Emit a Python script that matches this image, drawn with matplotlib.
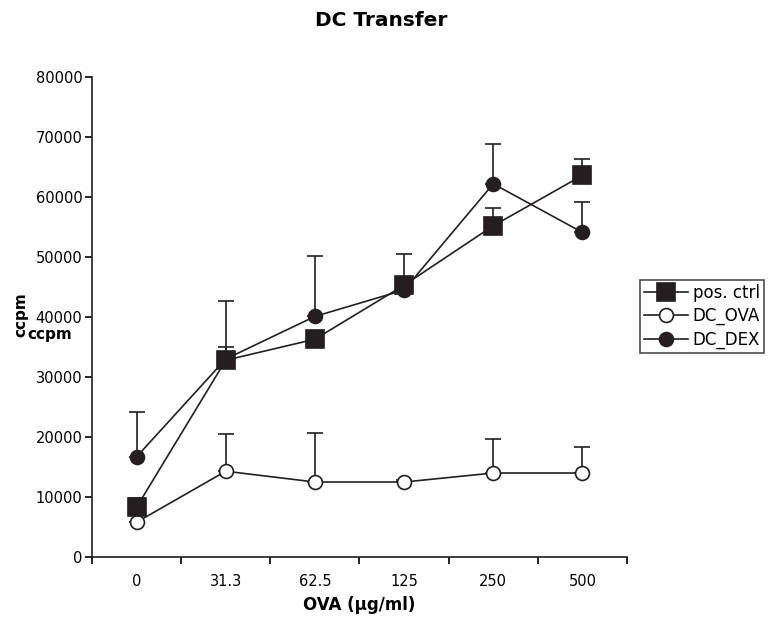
import numpy as np
import matplotlib.pyplot as plt

# -------------------------
# Data
# -------------------------

doses = ["0", "31.3", "62.5", "125", "250", "500"]

pos_ctrl = [8300, 32800, 36300, 45300, 55200, 63600]
pos_ctrl_err = [1600, 2200, 0, 5200, 2900, 2800]

dc_ova = [5800, 14300, 12500, 12500, 14000, 14000]
dc_ova_err = [0, 6200, 8100, 300, 5600, 4300]

dc_dex = [16700, 33000, 40100, 44500, 62200, 54100]
dc_dex_err = [7400, 9700, 10000, 0, 6600, 5000]

# -------------------------
# Plot
# -------------------------

plt.rcParams["font.family"] = "DejaVu Sans"

fig = plt.figure(figsize=(7.75, 6.17), dpi=100)
ax = fig.add_axes([0.1187, 0.0972, 0.6903, 0.7780])

x = np.arange(len(doses))


def draw(vals, err, marker, ms, face, label, z):
    ax.errorbar(x, vals, yerr=[np.zeros(len(vals)), err], fmt="none",
                ecolor="#231f20", elinewidth=1.2, capsize=5.5, capthick=1.2,
                zorder=z)
    ax.plot(x, vals, color="#231f20", lw=1.2, marker=marker, ms=ms,
            mfc=face, mec="#231f20", mew=1.2, label=label, zorder=z + 1)


draw(dc_dex, dc_dex_err, "o", 10, "#231f20", "DC_DEX", 2)
draw(dc_ova, dc_ova_err, "o", 10, "white", "DC_OVA", 4)
draw(pos_ctrl, pos_ctrl_err, "s", 13.5, "#231f20", "pos. ctrl", 6)

ax.set_xlim(-0.5, len(doses) - 0.5)
ax.set_ylim(0, 80000)
ax.set_yticks(np.arange(0, 80001, 10000))
ax.set_xticks(x)
ax.set_xticklabels(doses)
ax.set_xticks(np.arange(-0.5, len(doses), 1.0), minor=True)
ax.tick_params(axis="x", which="major", length=0, pad=12, labelsize=10.5)
ax.tick_params(axis="x", which="minor", length=5, width=1.2, direction="out")
ax.tick_params(axis="y", length=5, width=1.2, direction="out", labelsize=10.5,
               pad=2)

for side in ["top", "right"]:
    ax.spines[side].set_visible(False)
for side in ["left", "bottom"]:
    ax.spines[side].set_linewidth(1.2)
    ax.spines[side].set_color("#231f20")

ax.set_xlabel("OVA (µg/ml)", fontsize=12, fontweight="bold", labelpad=5)
fig.text(0.492, 0.966, "DC Transfer", ha="center", va="center",
         fontsize=14.5, fontweight="bold")

# overlapping y labels, as in the source
fig.text(0.027, 0.49, "ccpm", rotation=90, ha="center", va="center",
         fontsize=11, fontweight="bold")
fig.text(0.035, 0.458, "ccpm", ha="left", va="center",
         fontsize=11, fontweight="bold")

handles, labels = ax.get_legend_handles_labels()
order = [2, 1, 0]
leg = fig.legend([handles[i] for i in order], [labels[i] for i in order],
                 loc="upper left", bbox_to_anchor=(0.826, 0.547),
                 fontsize=12, frameon=True, fancybox=False,
                 borderpad=0.25, labelspacing=0.32, handlelength=2.6,
                 handletextpad=0.3, borderaxespad=0)
leg.get_frame().set_edgecolor("#231f20")
leg.get_frame().set_linewidth(1.2)

fig.savefig("out.png", dpi=100)
